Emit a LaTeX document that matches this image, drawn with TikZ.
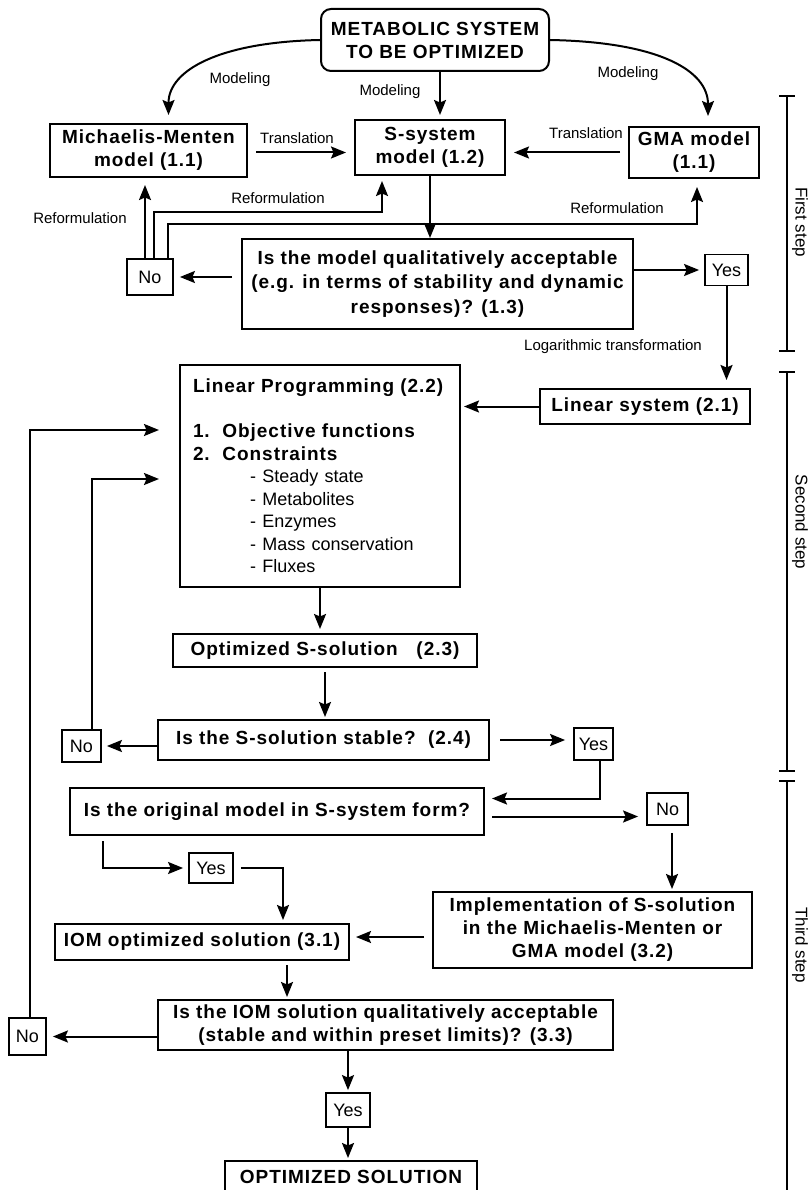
\documentclass[tikz,border=0pt]{standalone}
\usepackage{fontspec}
\setmainfont{Liberation Sans}
\newfontfamily\boxfont{Liberation Sans}[LetterSpace=5.0]
\usetikzlibrary{calc}
\usetikzlibrary{arrows.meta}

\tikzset{
  box/.style={draw, line width=2pt, inner sep=0pt, align=center,
    font=\boxfont\bfseries\fontsize{19}{23}\selectfont},
  ans/.style={draw, line width=1.8pt, inner sep=0pt,
    font=\fontsize{18}{22}\selectfont},
  lbl/.style={inner sep=0pt, font=\fontsize{15}{18}\selectfont},
  steplbl/.style={inner sep=0pt, rotate=-90, font=\fontsize{17}{20}\selectfont},
  arr/.style={line width=2pt, -{Stealth[length=15pt,width=12pt,inset=2.5pt]}},
}

\begin{document}
\begin{tikzpicture}[x=1pt,y=-1pt]
\useasboundingbox (0,0) rectangle (811,1190);

% first step
\node[box, rounded corners=10pt, minimum width=228, minimum height=62] (top) at (435,40)
  {METABOLIC SYSTEM\\TO BE OPTIMIZED};
\node[box, minimum width=197, minimum height=53] (mm) at (148.5,150.5) {Michaelis-Menten\\model (1.1)};
\node[box, minimum width=150, minimum height=55] (ss) at (430,147.5) {S-system\\model (1.2)};
\node[box, minimum width=130, minimum height=51] (gma) at (694,152.5) {GMA model\\(1.1)};
\node[box, minimum width=391, minimum height=90, font=\boxfont\bfseries\fontsize{19}{24.5}\selectfont] (qa) at (437.5,284)
  {Is the model qualitatively acceptable\\(e.g. in terms of stability and dynamic\\responses)? (1.3)};
\node[ans, minimum width=46, minimum height=36] (noa) at (150,277) {No};
\node[ans, minimum width=43, minimum height=31] (yesa) at (726.5,270) {Yes};

\draw[arr] (top.west) .. controls +(-100,2) and +(0,-45) .. ($(mm.north)+(20,-8)$);
\draw[arr] (top.east) .. controls +(110,2) and +(0,-45) .. ($(gma.north)+(14,-10)$);
\draw[arr, shorten >=4pt] ($(top.south)+(5,0)$) -- ($(top.south |- ss.north)+(5,0)$);
\node[lbl] at (240,80) {Modeling};
\node[lbl] at (390,92) {Modeling};
\node[lbl] at (628,74) {Modeling};

\draw[arr, shorten <=8pt, shorten >=8pt] ($(mm.east)+(0,2)$) -- ($(mm.east -| ss.west)+(0,2)$);
\draw[arr, shorten <=8pt, shorten >=8pt] (gma.west) -- (gma.west -| ss.east);
\node[lbl] at (297,138) {Translation};
\node[lbl] at (586,133) {Translation};

\draw[arr] (ss.south) -- (ss.south |- qa.north);
\draw[arr, shorten <=9pt, shorten >=6pt] (qa.west |- noa.east) -- (noa.east);
\draw[arr, shorten >=5pt] (qa.east |- yesa.west) -- (yesa.west);

\coordinate (ra) at ($(noa.north)+(-5,0)$);
\coordinate (rb) at ($(noa.north)+(4,0)$);
\coordinate (rc) at ($(noa.north)+(18,0)$);
\draw[arr, shorten >=7pt] (ra) -- (ra |- mm.south);
\draw[arr, shorten >=5pt] (rb) -- ++(0,-46) -| ($(ss.south)+(-48,0)$);
\draw[arr, shorten >=8pt] (rc) -- ++(0,-34) -| ($(gma.south)+(3,0)$);
\node[lbl] at (80,218) {Reformulation};
\node[lbl] at (278,198) {Reformulation};
\node[lbl] at (617,208) {Reformulation};

% second step
\node[box, minimum width=210, minimum height=35] (lin) at (645,406.5) {Linear system (2.1)};
\node[box, minimum width=280, minimum height=222, text width=254, align=left,
  font=\boxfont\bfseries\fontsize{19}{22.5}\selectfont] (lp) at (320,476)
  {Linear Programming (2.2)\\[22.5pt]
   1.\ \ Objective functions\\
   2.\ \ Constraints\\
   {\normalfont\fontsize{18}{22.5}\selectfont
   \hspace*{57pt}- Steady state\\
   \hspace*{57pt}- Metabolites\\
   \hspace*{57pt}- Enzymes\\
   \hspace*{57pt}- Mass conservation\\
   \hspace*{57pt}- Fluxes}};
\node[box, minimum width=304, minimum height=33] (opt) at (325,650.5) {Optimized S-solution\ \ \ (2.3)};
\node[box, minimum width=331, minimum height=40] (qb) at (323.5,740) {Is the S-solution stable?\ \ (2.4)};
\node[ans, minimum width=39, minimum height=32] (nob) at (81.5,746) {No};
\node[ans, minimum width=39, minimum height=32] (yesb) at (593.5,744) {Yes};

\draw[arr, shorten >=8pt] (yesa.south) -- (yesa.south |- lin.north);
\node[lbl] at (613,347) {Logarithmic transformation};
\draw[arr, shorten >=3pt] (lin.west) -- (lin.west -| lp.east);
\draw[arr, shorten >=4pt] (lp.south) -- (lp.south |- opt.north);
\draw[arr, shorten <=4pt, shorten >=2pt] (opt.south) -- (opt.south |- qb.north);
\draw[arr, shorten >=5pt] (qb.west |- nob.east) -- (nob.east);
\draw[arr, shorten <=10pt, shorten >=8pt] (qb.east) -- (qb.east -| yesb.west);

\coordinate (nbo) at ($(nob.north)+(10,0)$);
\draw[arr, shorten >=20pt] (nbo) |- ($(lp.west)+(0,3)$);

% third step
\node[box, minimum width=414, minimum height=47] (qc) at (277,811.5) {Is the original model in S-system form?};
\node[ans, minimum width=41, minimum height=32] (noc) at (667.5,809) {No};
\node[ans, minimum width=44, minimum height=30] (yesc) at (211,868) {Yes};
\node[box, minimum width=319, minimum height=76] (impl) at (592.5,930)
  {Implementation of S-solution\\in the Michaelis-Menten or\\GMA model (3.2)};
\node[box, minimum width=294, minimum height=36] (iom) at (202,942) {IOM optimized solution (3.1)};
\node[box, minimum width=455, minimum height=50] (qd) at (385.5,1025)
  {Is the IOM solution qualitatively acceptable\\(stable and within preset limits)? (3.3)};
\node[ans, minimum width=37, minimum height=37] (nod) at (27.5,1036.5) {No};
\node[ans, minimum width=44, minimum height=34] (yesd) at (348,1110) {Yes};
\node[box, minimum width=252, minimum height=32] (fin) at (351,1177) {OPTIMIZED SOLUTION};

\draw[arr, shorten >=7pt] ($(yesb.south)+(6,0)$) |- ($(qc.east)+(0,-13)$);
\draw[arr, shorten <=7pt, shorten >=8pt] ($(qc.east)+(0,5)$) -- ($(qc.east -| noc.west)+(0,5)$);
\coordinate (nc) at ($(noc.south)+(4.5,0)$);
\draw[arr, shorten <=7pt, shorten >=2pt] (nc) -- (nc |- impl.north);
\draw[arr, shorten >=5pt] ($(qc.south)+(-174,5)$) |- (yesc.west);
\draw[arr, shorten >=3pt] ($(yesc.east)+(7,0)$) -| ($(iom.north)+(81,0)$);
\draw[arr, shorten <=8pt, shorten >=6pt] ($(impl.west)+(0,7)$) -- ($(impl.west -| iom.east)+(0,7)$);
\draw[arr, shorten <=4pt, shorten >=2pt] ($(iom.south)+(85,0)$) -- ($(iom.south |- qd.north)+(85,0)$);
\draw[arr, shorten >=6pt] (qd.west |- nod.east) -- (nod.east);
\draw[arr, shorten >=20pt] ($(nod.north)+(2.5,0)$) |- ($(lp.west)+(0,-46)$);
\draw[arr, shorten >=2pt] (qd.south -| yesd.north) -- (yesd.north);
\draw[arr, shorten >=2pt] (yesd.south) -- (yesd.south |- fin.north);

% steps
\draw[line width=2pt] (787,96) -- (787,351) (787,372) -- (787,771) (787,781) -- (787,1190);
\foreach \y in {96,351,372,771,781}
  \draw[line width=2pt] (779,\y) -- (795,\y);
\node[steplbl] (s1) at (800,222) {First step};
\node[steplbl] (s2) at (800,522) {Second step};
\node[steplbl] (s3) at (800,945) {Third step};
\end{tikzpicture}
\end{document}
